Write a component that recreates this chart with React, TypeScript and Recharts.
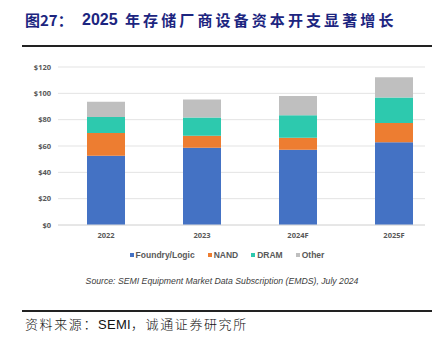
import React from 'react';
import { BarChart, Bar, XAxis, YAxis, CartesianGrid } from 'recharts';

const categories = ['2022', '2023', '2024F', '2025F'];
const foundryLogic = [52.6, 58.7, 57.2, 62.8];
const nand = [17.3, 9.1, 9.1, 14.7];
const dram = [12.2, 13.8, 17.1, 19.3];
const other = [11.6, 13.7, 14.5, 15.5];
const yTicks = [0, 20, 40, 60, 80, 100, 120];

const seriesNames = ['Foundry/Logic', 'NAND', 'DRAM', 'Other'];
const seriesKeys = ['foundry', 'nand', 'dram', 'other'];
const seriesColors = ['#4472C4', '#ED7D31', '#2DC9AE', '#BFBFBF'];

const data = categories.map((c, i) => ({
  name: c,
  foundry: foundryLogic[i],
  nand: nand[i],
  dram: dram[i],
  other: other[i],
}));

const tickStyle = { fontSize: 7.5, fill: '#595959', fontFamily: 'Open Sans', fontWeight: 700 };

const LegendContent = () => (
  <div style={{ display: 'flex', justifyContent: 'center', fontFamily: 'Liberation Sans', fontSize: 8.5, fontWeight: 700, color: '#595959', marginLeft: 10 }}>
    {seriesNames.map((n, i) => (
      <div key={n} style={{ display: 'flex', alignItems: 'center', marginRight: i < 3 ? 13 : 0 }}>
        <span style={{ display: 'inline-block', width: 4, height: 4, background: seriesColors[i], marginRight: 2 }} />
        <span>{n}</span>
      </div>
    ))}
  </div>
);

export default function App() {
  return (
    <div style={{ position: 'absolute', left: 0, top: 0, width: 444, height: 338, background: '#fff', overflow: 'hidden' }}>
      <div style={{ position: 'absolute', left: 25, top: 9, fontFamily: 'Noto Sans CJK SC', fontWeight: 700, fontSize: 15, color: '#1c2580', whiteSpace: 'nowrap', lineHeight: '22px' }}>
        <span style={{ position: 'absolute', left: 0 }}>图27：</span>
        <span style={{ position: 'absolute', left: 57, fontFamily: 'Liberation Sans', fontSize: 16 }}>2025</span>
        <span style={{ position: 'absolute', left: 100, letterSpacing: 3.1 }}>年存储厂商设备资本开支显著增长</span>
      </div>
      <div style={{ position: 'absolute', left: 22, top: 45, width: 410, height: 1.5, background: '#222' }} />
      <div style={{ position: 'absolute', left: 0, top: 0 }}>
        <BarChart width={444} height={338} data={data} margin={{ top: 67, right: 19, left: 0, bottom: 83 }}>
          <CartesianGrid horizontal vertical={false} stroke="#e3e3e3" strokeWidth={1} />
          <XAxis
            dataKey="name"
            height={30}
            tick={tickStyle}
            tickLine={false}
            tickSize={0}
            tickMargin={8}
            axisLine={{ stroke: '#dcdcdc' }}
            padding={{ left: 0, right: -17 }}
          />
          <YAxis
            width={58}
            domain={[0, 120]}
            ticks={yTicks}
            tick={tickStyle}
            tickFormatter={(v: number) => `$${v}`}
            tickLine={false}
            tickSize={0}
            tickMargin={7}
            axisLine={false}
          />
          {seriesKeys.map((k, i) => (
            <Bar key={k} dataKey={k} name={seriesNames[i]} stackId="a" fill={seriesColors[i]} barSize={38} isAnimationActive={false} />
          ))}
        </BarChart>
      </div>
      <div style={{ position: 'absolute', left: 0, top: 250, width: 444 }}>
        <LegendContent />
      </div>
      <div style={{ position: 'absolute', left: 0, width: 444, top: 276, textAlign: 'center', fontFamily: 'Liberation Sans', fontStyle: 'italic', fontSize: 8.7, color: '#404040', whiteSpace: 'nowrap', paddingLeft: 0 }}>
        Source: SEMI Equipment Market Data Subscription (EMDS), July 2024
      </div>
      <div style={{ position: 'absolute', left: 22, top: 310, width: 410, height: 1.5, background: '#222' }} />
      <div style={{ position: 'absolute', left: 25, top: 315, fontFamily: 'Noto Sans CJK SC', fontWeight: 300, fontSize: 13, letterSpacing: 1.6, color: '#111', whiteSpace: 'nowrap', lineHeight: '18px' }}>
        资料来源：<span style={{ fontFamily: 'Liberation Sans', fontWeight: 400, letterSpacing: 0.3 }}>SEMI</span>，诚通证券研究所
      </div>
    </div>
  );
}
